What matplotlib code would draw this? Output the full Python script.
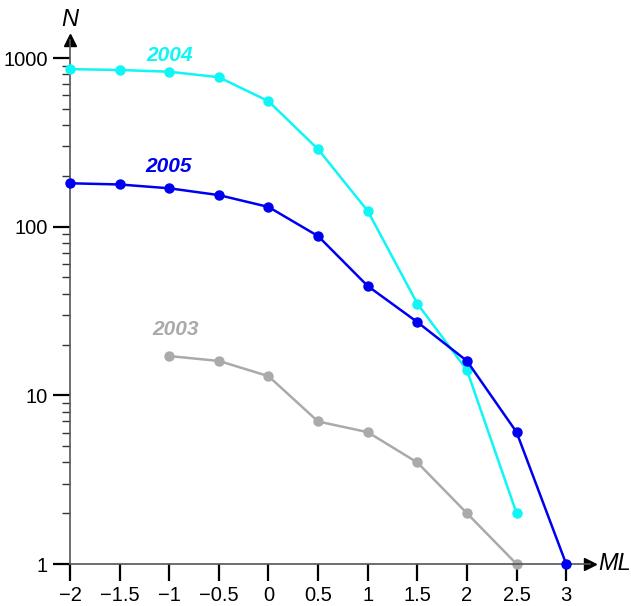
import matplotlib.pyplot as plt
from matplotlib.ticker import LogLocator, NullFormatter, FixedLocator

plt.rcParams['font.family'] = ['Liberation Sans', 'DejaVu Sans']

# --- dane ---
ml_2004 = [-2, -1.5, -1, -0.5, 0, 0.5, 1, 1.5, 2, 2.5]
n_2004 = [860, 850, 830, 770, 555, 288, 124, 35, 14.1, 2.0]

ml_2005 = [-2, -1.5, -1, -0.5, 0, 0.5, 1, 1.5, 2, 2.5, 3]
n_2005 = [181, 178, 169, 154, 131, 88, 44.5, 27.2, 16, 6.05, 1]

ml_2003 = [-1, -0.5, 0, 0.5, 1, 1.5, 2, 2.5]
n_2003 = [17.1, 16, 13, 7.0, 6.05, 4.0, 2.0, 1]

x_ticks = [-2, -1.5, -1, -0.5, 0, 0.5, 1, 1.5, 2, 2.5, 3]
y_ticks = [1, 10, 100, 1000]

CYAN = "#10F5F5"
BLUE = "#0000F0"
GREY = "#AAAAAA"
SPINE = "#555555"

fig = plt.figure(figsize=(6.31, 6.06), dpi=100, facecolor="white")
ax = fig.add_axes([70 / 631, 42 / 606, 520 / 631, 524 / 606])

ax.plot(ml_2004, n_2004, color=CYAN, lw=1.8, marker="o", ms=6.5, zorder=3, clip_on=False)
ax.plot(ml_2005, n_2005, color=BLUE, lw=1.8, marker="o", ms=6.5, zorder=4, clip_on=False)
ax.plot(ml_2003, n_2003, color=GREY, lw=1.8, marker="o", ms=6.5, zorder=2, clip_on=False)

ax.set_yscale("log")
ax.set_xlim(-2, 3.24)
ax.set_ylim(1, 1280)

# osie ze strzałkami
for s in ["top", "right"]:
    ax.spines[s].set_visible(False)
for s in ["left", "bottom"]:
    ax.spines[s].set_color(SPINE)
    ax.spines[s].set_linewidth(1.2)
ax.plot(1, 0, marker=">", color="black", ms=8, transform=ax.transAxes, clip_on=False)
ax.plot(0, 1, marker="^", color="black", ms=8, transform=ax.transAxes, clip_on=False)

ax.xaxis.set_major_locator(FixedLocator(x_ticks))
ax.set_xticklabels([f"{v:g}".replace("-", "\u2212") for v in x_ticks])
ax.yaxis.set_major_locator(FixedLocator(y_ticks))
ax.set_yticklabels([str(v) for v in y_ticks])
ax.yaxis.set_minor_locator(LogLocator(base=10, subs=range(2, 10)))
ax.yaxis.set_minor_formatter(NullFormatter())

ax.tick_params(axis="both", which="major", length=12, width=1.6, color="black",
               labelsize=14.5, pad=4)
ax.tick_params(axis="y", which="minor", length=6, width=1.0, color="#333333")

# podpisy osi
ax.text(0, 1.04, "N", transform=ax.transAxes, ha="center", va="center",
        fontsize=17, fontstyle="italic")
ax.text(1.015, 0, "ML", transform=ax.transAxes, ha="left", va="center",
        fontsize=17, fontstyle="italic")

# etykiety serii
ax.text(-1.0, 1040, "2004", color=CYAN, fontsize=15, fontweight="bold",
        fontstyle="italic", ha="center", va="center")
ax.text(-1.01, 229, "2005", color=BLUE, fontsize=15, fontweight="bold",
        fontstyle="italic", ha="center", va="center")
ax.text(-0.94, 24.5, "2003", color=GREY, fontsize=15, fontweight="bold",
        fontstyle="italic", ha="center", va="center")

plt.savefig("out.png", dpi=100)
